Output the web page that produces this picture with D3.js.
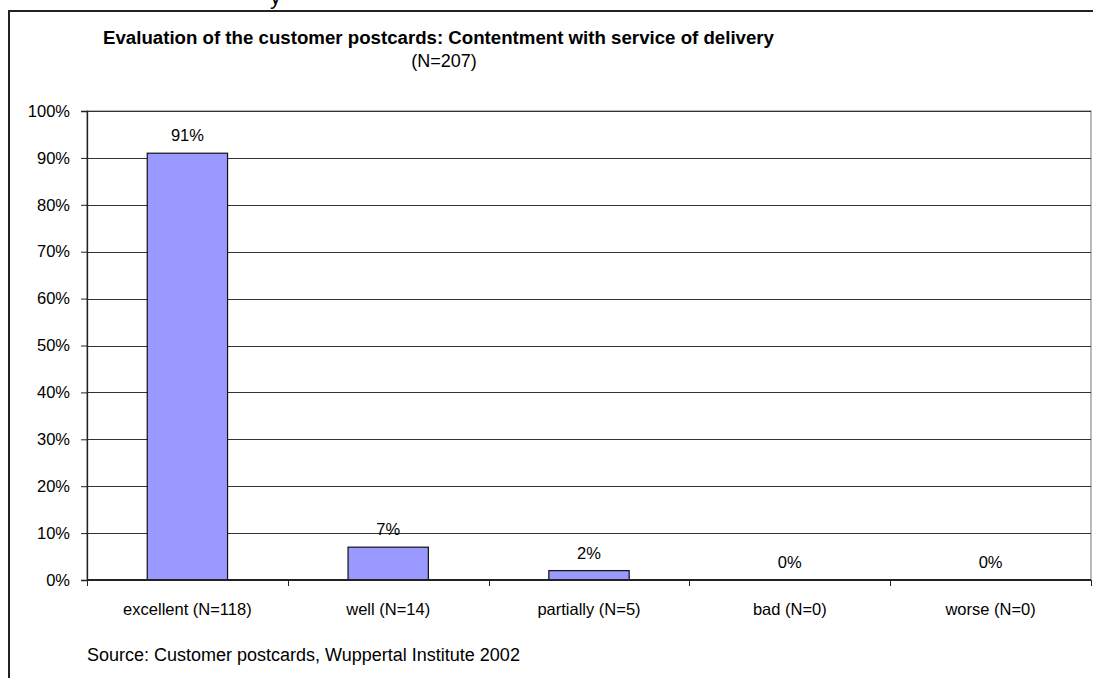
<!DOCTYPE html>
<html>
<head>
<meta charset="utf-8">
<script src="https://cdn.jsdelivr.net/npm/d3@7"></script>
<style>
  html, body { margin: 0; padding: 0; background: #fff; }
  svg { display: block; font-family: "Liberation Sans", Arial, sans-serif; }
</style>
</head>
<body>
<script>
const categories = ["excellent (N=118)", "well (N=14)", "partially (N=5)", "bad (N=0)", "worse (N=0)"];
const values = [91, 7, 2, 0, 0];
const yTickValues = [0, 10, 20, 30, 40, 50, 60, 70, 80, 90, 100];
const titleText = "Evaluation of the customer postcards: Contentment with service of delivery";
const subtitleText = "(N=207)";
const sourceText = "Source: Customer postcards, Wuppertal Institute 2002";

const W = 1093, H = 678;
const plot = { left: 87, right: 1091, top: 111, bottom: 580 };
const labelSize = 16.5;

const svg = d3.select("body").append("svg").attr("width", W).attr("height", H);

// clipped heading line above the frame (only descender visible, as in the reference)
svg.append("text").attr("x", 270).attr("y", 4)
  .attr("font-size", 22).attr("fill", "#000").text("y");

// outer frame
svg.append("path")
  .attr("d", `M9,${H + 5} L9,11 L${W + 5},11`)
  .attr("fill", "none").attr("stroke", "#222").attr("stroke-width", 2);

const x = d3.scaleBand().domain(categories)
  .range([plot.left, plot.right]).paddingInner(0.6).paddingOuter(0.3);
const y = d3.scaleLinear().domain([0, 100]).range([plot.bottom, plot.top]);

// plot area border (gray)
svg.append("rect")
  .attr("x", plot.left).attr("y", plot.top)
  .attr("width", plot.right - plot.left).attr("height", plot.bottom - plot.top)
  .attr("fill", "none").attr("stroke", "#8c8c8c").attr("stroke-width", 1.2);

// gridlines
svg.append("g").selectAll("line").data(yTickValues.filter(d => d > 0)).join("line")
  .attr("x1", plot.left).attr("x2", plot.right)
  .attr("y1", d => Math.round(y(d)) + 0.5).attr("y2", d => Math.round(y(d)) + 0.5)
  .attr("stroke", "#333").attr("stroke-width", 1);

// y axis
const yAxis = d3.axisLeft(y).tickValues(yTickValues).tickFormat(d => d + "%").tickSize(6).tickPadding(11);
const gy = svg.append("g").attr("transform", `translate(${plot.left},0)`).call(yAxis);
gy.select(".domain").attr("stroke", "#222").attr("stroke-width", 1.3);
gy.selectAll(".tick line").attr("stroke", "#222");
gy.selectAll(".tick text").attr("font-size", labelSize).attr("fill", "#000")
  .attr("font-family", "Liberation Sans, Arial, sans-serif");

// bars
svg.append("g").selectAll("rect").data(values).join("rect")
  .attr("x", (d, i) => x(categories[i]))
  .attr("y", d => y(d))
  .attr("width", x.bandwidth())
  .attr("height", d => y(0) - y(d))
  .attr("fill", "#9999FF").attr("stroke", "#111").attr("stroke-width", 1.2)
  .attr("display", d => d > 0 ? null : "none");

// value labels
svg.append("g").selectAll("text").data(values).join("text")
  .attr("x", (d, i) => x(categories[i]) + x.bandwidth() / 2)
  .attr("y", d => y(d) - 12)
  .attr("text-anchor", "middle").attr("font-size", labelSize).attr("fill", "#000")
  .text(d => d + "%");

// x axis
const boundaries = categories.map(c => x(c) - x.step() * 0.3).concat([plot.right]);
const gx = svg.append("g");
gx.append("line").attr("x1", plot.left).attr("x2", plot.right)
  .attr("y1", y(0)).attr("y2", y(0)).attr("stroke", "#222").attr("stroke-width", 2);
gx.selectAll("line.t").data(boundaries).join("line").attr("class", "t")
  .attr("x1", d => Math.round(d) + 0.5).attr("x2", d => Math.round(d) + 0.5)
  .attr("y1", y(0)).attr("y2", y(0) + 6).attr("stroke", "#222");
gx.selectAll("text").data(categories).join("text")
  .attr("x", d => x(d) + x.bandwidth() / 2).attr("y", 615)
  .attr("text-anchor", "middle").attr("font-size", labelSize).attr("fill", "#000")
  .text(d => d);

// titles
svg.append("text").attr("x", 103).attr("y", 44)
  .attr("font-size", 18).attr("font-weight", "bold").attr("fill", "#000")
  .attr("textLength", 671).attr("lengthAdjust", "spacingAndGlyphs")
  .text(titleText);
svg.append("text").attr("x", 444).attr("y", 67)
  .attr("text-anchor", "middle").attr("font-size", 18).attr("fill", "#000")
  .text(subtitleText);

// source
svg.append("text").attr("x", 87).attr("y", 661)
  .attr("font-size", 18).attr("fill", "#000").text(sourceText);
</script>
</body>
</html>
